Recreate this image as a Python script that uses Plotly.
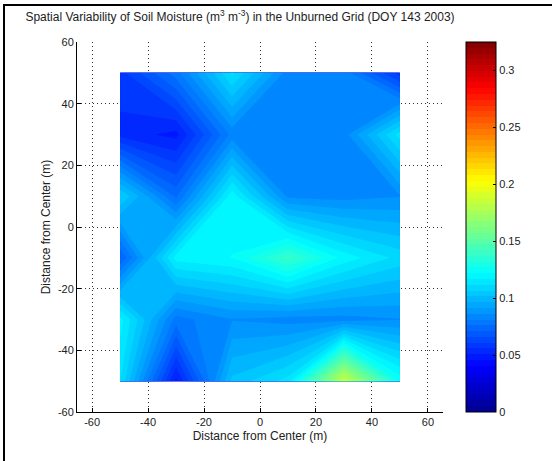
import plotly.graph_objects as go

x_pos = [-50, -30, -10, 10, 30, 50]
y_pos = [-50, -30, -10, 10, 30, 50]
# soil moisture (m3 m-3), rows follow y_pos (bottom to top)
row_m50 = [0.112, 0.049, 0.103, 0.114, 0.186, 0.126]
row_m30 = [0.119, 0.079, 0.086, 0.084, 0.084, 0.086]
row_m10 = [0.071, 0.119, 0.122, 0.139, 0.120, 0.110]
row_p10 = [0.107, 0.075, 0.120, 0.085, 0.084, 0.086]
row_p30 = [0.054, 0.049, 0.083, 0.085, 0.084, 0.114]
row_p50 = [0.059, 0.079, 0.113, 0.084, 0.084, 0.058]
moisture = [row_m50, row_m30, row_m10, row_p10, row_p30, row_p50]

axis_ticks = [-60, -40, -20, 0, 20, 40, 60]
axis_labels = ["-60", "-40", "-20", "0", "20", "40", "60"]
cbar_ticks = [0, 0.05, 0.1, 0.15, 0.2, 0.25, 0.3]
cbar_labels = ["0", "0.05", "0.1", "0.15", "0.2", "0.25", "0.3"]
c_min, c_max = 0.0, 0.325

jet = [
    [0.0, "rgb(0,0,143)"],
    [0.125, "rgb(0,0,255)"],
    [0.375, "rgb(0,255,255)"],
    [0.625, "rgb(255,255,0)"],
    [0.875, "rgb(255,0,0)"],
    [1.0, "rgb(128,0,0)"],
]

FONT = "Liberation Sans, Arial, sans-serif"

fig = go.Figure()
fig.add_trace(go.Contour(
    x=x_pos, y=y_pos, z=moisture,
    colorscale=jet, zmin=c_min, zmax=c_max, zauto=False,
    autocontour=False,
    contours=dict(start=c_min, end=c_max, size=(c_max - c_min) / 64, coloring="fill", showlines=False),
    line=dict(width=0, smoothing=0),
    colorbar=dict(
        x=(466 - 77) / 366, xanchor="left", xpad=0,
        y=0, yanchor="bottom", ypad=0, len=1, lenmode="fraction",
        thickness=30, thicknessmode="pixels",
        outlinecolor="black", outlinewidth=1,
        tickmode="array", tickvals=cbar_ticks, ticktext=cbar_labels,
        ticks="inside", ticklen=3, tickcolor="black",
        tickfont=dict(family=FONT, size=11, color="#222"),
    ),
    hoverinfo="skip",
))

axis_common = dict(
    showgrid=True, gridcolor="#333", griddash="1px,3px", gridwidth=1,
    showline=True, linecolor="black", linewidth=1, mirror=False,
    ticks="inside", ticklen=4, tickcolor="black",
    zeroline=False, tickmode="array", tickvals=axis_ticks, ticktext=axis_labels,
    tickfont=dict(family=FONT, size=11, color="#222"),
)

px_x = lambda p: (p - 77) / 366
px_y = lambda p: (412 - p) / 370

fig.update_layout(
    width=552, height=461,
    margin=dict(l=77, r=109, t=42, b=49),
    paper_bgcolor="white", plot_bgcolor="white",
    font=dict(family=FONT, color="#222"),
    title=dict(
        text="Spatial Variability of Soil Moisture (m<sup>3</sup> m<sup>-3</sup>) in the Unburned Grid (DOY 143 2003)",
        x=240 / 552, xanchor="center", y=1 - 17 / 461, yanchor="middle",
        font=dict(family=FONT, size=12, color="#222"),
    ),
    xaxis=dict(range=[-65.4, 65.4], title=dict(text="Distance from Center (m)", font=dict(size=12), standoff=4), **axis_common),
    yaxis=dict(range=[-60, 60], title=dict(text="Distance from Center (m)", font=dict(size=12), standoff=4), **axis_common),
    shapes=[
        dict(type="line", xref="paper", yref="paper", x0=px_x(4), x1=px_x(4), y0=px_y(470), y1=px_y(4),
             line=dict(color="black", width=2)),
        dict(type="line", xref="paper", yref="paper", x0=px_x(3), x1=px_x(560), y0=px_y(5), y1=px_y(5),
             line=dict(color="black", width=2)),
    ],
)

fig.write_html("out.html", config={"displayModeBar": False},
               post_script="document.body.style.margin='0';document.body.style.padding='0';")
